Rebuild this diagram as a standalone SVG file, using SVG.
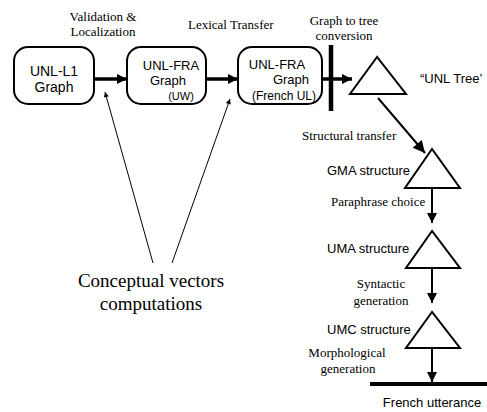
<svg xmlns="http://www.w3.org/2000/svg" width="487" height="412" viewBox="0 0 487 412">
<defs>
<marker id="ah" viewBox="0 0 10 10" refX="10" refY="5" markerWidth="10" markerHeight="10" markerUnits="userSpaceOnUse" orient="auto"><path d="M0,0 L10,5 L0,10 z" fill="#000"/></marker>
<marker id="ahs" viewBox="0 0 10 10" refX="10" refY="5" markerWidth="6" markerHeight="5" markerUnits="userSpaceOnUse" orient="auto"><path d="M0,0 L10,5 L0,10 z" fill="#000"/></marker>
<marker id="ahd" viewBox="0 0 10 10" refX="10" refY="5" markerWidth="14" markerHeight="12" markerUnits="userSpaceOnUse" orient="auto"><path d="M0,0 L10,5 L0,10 z" fill="#000"/></marker>
</defs>
<style>
.box{fill:#fff;stroke:#000;stroke-width:2}
.tri{fill:#fff;stroke:#000;stroke-width:2}
.sans{font-family:"Liberation Sans",Arial,sans-serif;fill:#000}
.serif{font-family:"Liberation Serif","Times New Roman",serif;fill:#000}
.thick{stroke:#000;stroke-width:3.5;fill:none}
.med{stroke:#000;stroke-width:2;fill:none}
.thin{stroke:#000;stroke-width:1;fill:none}
</style>
<rect width="487" height="412" fill="#fff"/>
<g id="connectors">
<line class="thick" x1="94" y1="79" x2="127" y2="79" marker-end="url(#ah)"/>
<line class="thick" x1="206" y1="79" x2="238" y2="79" marker-end="url(#ah)"/>
<line class="thick" x1="322" y1="79" x2="352" y2="79" marker-end="url(#ah)"/>
<line x1="331" y1="45" x2="331" y2="111" stroke="#000" stroke-width="4.5"/>
<line class="med" x1="378" y1="98" x2="425" y2="153" marker-end="url(#ahd)"/>
<line class="med" x1="432" y1="188" x2="432" y2="223" marker-end="url(#ah)"/>
<line class="med" x1="432" y1="268" x2="432" y2="303" marker-end="url(#ah)"/>
<line class="med" x1="432" y1="348" x2="432" y2="382" marker-end="url(#ah)"/>
<line x1="370" y1="384" x2="487" y2="384" stroke="#000" stroke-width="4"/>
<line class="thin" x1="153" y1="263" x2="105" y2="92" marker-end="url(#ahs)"/>
<line class="thin" x1="172" y1="263" x2="230" y2="99" marker-end="url(#ahs)"/>
</g>
<g id="n-unl-l1">
<rect class="box" x="14" y="47" width="80" height="57" rx="14"/>
<text class="sans" x="54" y="76" font-size="14" text-anchor="middle">UNL-L1</text>
<text class="sans" x="54" y="92" font-size="14" text-anchor="middle">Graph</text>
</g>
<g id="n-unl-fra-uw">
<rect class="box" x="127" y="47" width="79" height="57" rx="14"/>
<text class="sans" x="171" y="70" font-size="13" text-anchor="middle">UNL-FRA</text>
<text class="sans" x="168" y="85" font-size="13" text-anchor="middle">Graph</text>
<text class="sans" x="181" y="100" font-size="11" text-anchor="middle">(UW)</text>
</g>
<g id="n-unl-fra-ul">
<rect class="box" x="238" y="47" width="84" height="57" rx="14"/>
<text class="sans" x="277" y="69" font-size="13" text-anchor="middle">UNL-FRA</text>
<text class="sans" x="291" y="84" font-size="13" text-anchor="middle">Graph</text>
<text class="sans" x="284" y="99.5" font-size="12" text-anchor="middle">(French UL)</text>
</g>
<g id="n-unl-tree">
<polygon class="tri" points="377,57 350,94 406,94"/>
<text class="sans" x="420" y="83" font-size="13">“UNL Tree’</text>
</g>
<g id="n-gma">
<polygon class="tri" points="432,149 405,188 460,188"/>
<text class="sans" x="327" y="175" font-size="13">GMA structure</text>
</g>
<g id="n-uma">
<polygon class="tri" points="432,231 406,268 460,268"/>
<text class="sans" x="327" y="253" font-size="13">UMA structure</text>
</g>
<g id="n-umc">
<polygon class="tri" points="432,312 406,348 460,348"/>
<text class="sans" x="327" y="334" font-size="13">UMC structure</text>
</g>
<g id="n-french">
<text class="sans" x="432" y="407" font-size="13" text-anchor="middle">French utterance</text>
</g>
<g id="labels">
<text class="serif" x="103" y="21" font-size="13" text-anchor="middle">Validation &amp;</text>
<text class="serif" x="103" y="36" font-size="13" text-anchor="middle">Localization</text>
<text class="serif" x="188" y="29" font-size="13">Lexical Transfer</text>
<text class="serif" x="344" y="25" font-size="13" text-anchor="middle">Graph to tree</text>
<text class="serif" x="344" y="40" font-size="13" text-anchor="middle">conversion</text>
<text class="serif" x="302" y="140" font-size="13">Structural transfer</text>
<text class="serif" x="331" y="206" font-size="13">Paraphrase choice</text>
<text class="serif" x="381" y="288" font-size="13" text-anchor="middle">Syntactic</text>
<text class="serif" x="381" y="305" font-size="13" text-anchor="middle">generation</text>
<text class="serif" x="347" y="357" font-size="13" text-anchor="middle">Morphological</text>
<text class="serif" x="348" y="373" font-size="13" text-anchor="middle">generation</text>
<text class="serif" x="151" y="287" font-size="19" text-anchor="middle">Conceptual vectors</text>
<text class="serif" x="151" y="310" font-size="19" text-anchor="middle">computations</text>
</g>
</svg>
